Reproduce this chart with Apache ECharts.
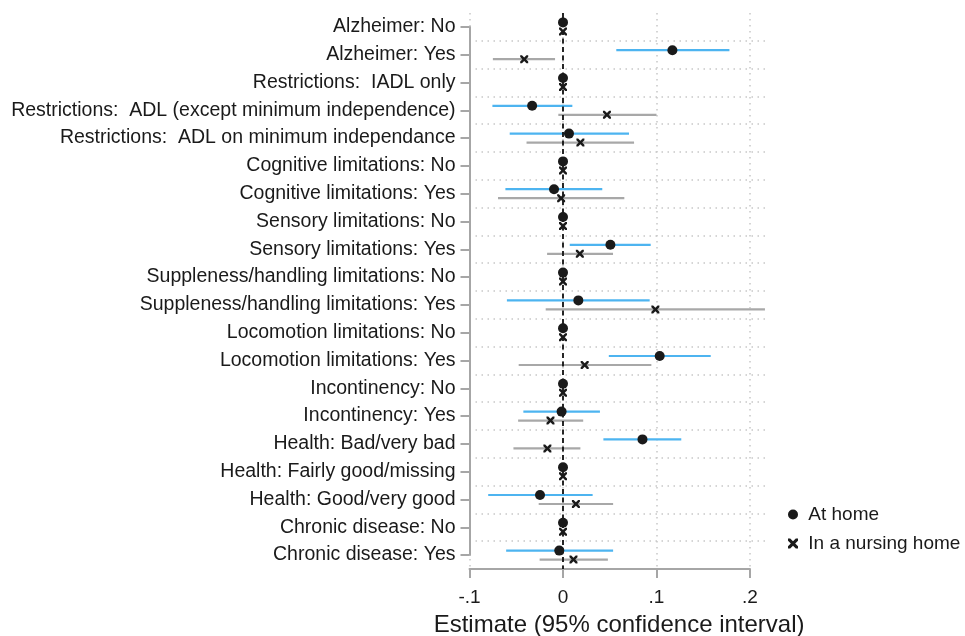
<!DOCTYPE html>
<html>
<head>
<meta charset="utf-8">
<script src="https://cdn.jsdelivr.net/npm/echarts@6/dist/echarts.min.js"></script>
<style>
html,body{margin:0;padding:0;background:#fff;}
#chart{width:965px;height:636px;}
</style>
</head>
<body>
<div id="chart"></div>
<script>
var categories = [
  'Alzheimer: No',
  'Alzheimer: Yes',
  'Restrictions:  IADL only',
  'Restrictions:  ADL (except minimum independence)',
  'Restrictions:  ADL on minimum independance',
  'Cognitive limitations: No',
  'Cognitive limitations: Yes',
  'Sensory limitations: No',
  'Sensory limitations: Yes',
  'Suppleness/handling limitations: No',
  'Suppleness/handling limitations: Yes',
  'Locomotion limitations: No',
  'Locomotion limitations: Yes',
  'Incontinency: No',
  'Incontinency: Yes',
  'Health: Bad/very bad',
  'Health: Fairly good/missing',
  'Health: Good/very good',
  'Chronic disease: No',
  'Chronic disease: Yes'
];
var homeEst = [0, 0.117, 0, -0.033, 0.0064, 0, -0.0096, 0, 0.0507, 0, 0.0164, 0, 0.1034, 0, -0.0015, 0.085, 0, -0.0246, 0, -0.0040];
var homeLo  = [null, 0.057, null, -0.0755, -0.057, null, -0.0616, null, 0.0072, null, -0.060, null, 0.049, null, -0.0424, 0.0432, null, -0.080, null, -0.0608];
var homeHi  = [null, 0.178, null, 0.010, 0.0706, null, 0.042, null, 0.0938, null, 0.0927, null, 0.158, null, 0.0395, 0.1265, null, 0.0317, null, 0.0536];
var nursEst = [0, -0.0415, 0, 0.047, 0.0186, 0, -0.002, 0, 0.018, 0, 0.0988, 0, 0.0232, 0, -0.0134, -0.0167, 0, 0.0138, 0, 0.0112];
var nursLo  = [null, -0.075, null, -0.005, -0.039, null, -0.0695, null, -0.017, null, -0.0185, null, -0.0474, null, -0.048, -0.053, null, -0.026, null, -0.025];
var nursHi  = [null, -0.0085, null, 0.100, 0.076, null, 0.0656, null, 0.0535, null, 0.216, null, 0.0945, null, 0.0216, 0.0186, null, 0.0536, null, 0.048];
var seriesNames = ['At home', 'In a nursing home'];
var xTickValues = [-0.1, 0, 0.1, 0.2];
var xTickLabels = ['-.1', '0', '.1', '.2'];
var xTitle = 'Estimate (95% confidence interval)';

var FONT = '"Liberation Sans", Arial, sans-serif';
var TEXT = '#1a1a1a';
var AXIS = '#a6a6a6';
var GRIDC = '#c8c8c8';
var BLUE = '#4db4f0';
var GREY = '#a8a8a8';
var OFF = 4.5;
var XPATH = 'path://M0,0 L2.2,0 L5,2.8 L7.8,0 L10,0 L10,2.2 L7.2,5 L10,7.8 L10,10 L7.8,10 L5,7.2 L2.2,10 L0,10 L0,7.8 L2.8,5 L0,2.2 Z';

// category index -> band centre on the value y-axis of the data grid
function catPos(i) { return i + 0.5; }

function ciData(lo, hi) {
  var out = [];
  for (var i = 0; i < lo.length; i++) {
    if (lo[i] !== null && hi[i] !== null) out.push([lo[i], hi[i], catPos(i)]);
  }
  return out;
}
function ptData(est) {
  return est.map(function (v, i) { return [v, catPos(i)]; });
}
function ciRender(dy, color) {
  return function (params, api) {
    var a = api.coord([api.value(0), api.value(2)]);
    var b = api.coord([api.value(1), api.value(2)]);
    return {
      type: 'line',
      shape: { x1: a[0], y1: a[1] + dy, x2: b[0], y2: b[1] + dy },
      style: { stroke: color, lineWidth: 2.2 }
    };
  };
}
function zeroRender(params, api) {
  var cs = params.coordSys;
  var p = api.coord([api.value(0), 0]);
  return {
    type: 'line',
    shape: { x1: p[0], y1: cs.y, x2: p[0], y2: cs.y + cs.height },
    style: { stroke: '#111', lineWidth: 1.8, lineDash: [5, 3.5] }
  };
}

var L = 469.5, TOP = 13, BAND = 27.8;
var PX_PER_UNIT = 935;
var N = categories.length;
var chart = echarts.init(document.getElementById('chart'), null, { renderer: 'canvas' });
chart.setOption({
  animation: false,
  backgroundColor: '#fff',
  textStyle: { fontFamily: FONT },
  grid: [
    { left: L, top: TOP, width: 0.32 * PX_PER_UNIT, height: BAND * N,
      containLabel: false, outerBoundsMode: 'none' },
    { left: L, top: TOP + BAND / 2, width: 0.3 * PX_PER_UNIT, height: BAND * (N - 1),
      containLabel: false, outerBoundsMode: 'none' }
  ],
  xAxis: [
    {
      gridIndex: 0, type: 'value', min: -0.1, max: 0.22, interval: 0.1,
      axisLine: { show: false, onZero: false }, axisTick: { show: false }, axisLabel: { show: false },
      splitLine: { show: true, showMinLine: true, showMaxLine: false,
        lineStyle: { color: GRIDC, width: 1.5, type: [1.5, 4.5] } },
      name: xTitle, nameLocation: 'middle', nameGap: 44,
      nameTextStyle: { fontSize: 24, color: TEXT, fontFamily: FONT }
    },
    {
      gridIndex: 1, type: 'value', min: -0.1, max: 0.2, interval: 0.1,
      position: 'bottom', offset: BAND / 2,
      axisLine: { show: true, onZero: false, lineStyle: { color: AXIS, width: 2 } },
      axisTick: { show: true, length: 9, lineStyle: { color: AXIS, width: 2 } },
      axisLabel: {
        show: true, margin: 19, fontSize: 19, color: TEXT, fontFamily: FONT,
        formatter: function (v) {
          var best = 0;
          for (var i = 1; i < xTickValues.length; i++) {
            if (Math.abs(xTickValues[i] - v) < Math.abs(xTickValues[best] - v)) best = i;
          }
          return xTickLabels[best];
        }
      },
      splitLine: { show: false }
    }
  ],
  yAxis: [
    {
      gridIndex: 0, type: 'value', min: 0, max: N, interval: 1, inverse: true,
      axisLine: { show: false, onZero: false }, axisTick: { show: false }, axisLabel: { show: false },
      splitLine: { show: true, showMinLine: false, showMaxLine: false,
        lineStyle: { color: GRIDC, width: 1.5, type: [1.5, 4.5] } }
    },
    {
      gridIndex: 1, type: 'value', min: 0, max: N - 1, interval: 1, inverse: true,
      position: 'left',
      axisLine: { show: true, onZero: false, lineStyle: { color: AXIS, width: 2 } },
      axisTick: { show: true, length: 9, lineStyle: { color: AXIS, width: 2 } },
      axisLabel: {
        show: true, margin: 14, fontSize: 19.5, color: TEXT, fontFamily: FONT,
        formatter: function (v) { return categories[Math.round(v)] || ''; }
      },
      splitLine: { show: false }
    }
  ],
  legend: {
    orient: 'vertical', left: 783, top: 500, itemWidth: 10, itemHeight: 10, itemGap: 10,
    textStyle: { fontSize: 19, color: TEXT, fontFamily: FONT, lineHeight: 19 },
    formatter: function (name) { return ' ' + name; },
    data: [
      { name: seriesNames[0], icon: 'circle', itemStyle: { color: TEXT } },
      { name: seriesNames[1], icon: XPATH, itemStyle: { color: TEXT } }
    ]
  },
  series: [
    {
      type: 'custom', name: 'ci-home', xAxisIndex: 0, yAxisIndex: 0, z: 2,
      renderItem: ciRender(-OFF, BLUE),
      data: ciData(homeLo, homeHi)
    },
    {
      type: 'custom', name: 'ci-nurs', xAxisIndex: 0, yAxisIndex: 0, z: 2,
      renderItem: ciRender(OFF, GREY),
      data: ciData(nursLo, nursHi)
    },
    {
      type: 'custom', name: 'zero-line', xAxisIndex: 0, yAxisIndex: 0, z: 3,
      renderItem: zeroRender,
      data: [[0]]
    },
    {
      type: 'scatter', name: seriesNames[0], xAxisIndex: 0, yAxisIndex: 0, z: 6,
      symbol: 'circle', symbolSize: 10, symbolOffset: [0, -OFF],
      itemStyle: { color: TEXT, opacity: 1 },
      data: ptData(homeEst)
    },
    {
      type: 'scatter', name: seriesNames[1], xAxisIndex: 0, yAxisIndex: 0, z: 6,
      symbol: XPATH, symbolSize: 8, symbolOffset: [0, OFF],
      itemStyle: { color: TEXT, opacity: 1 },
      data: ptData(nursEst)
    }
  ]
});
</script>
</body>
</html>
